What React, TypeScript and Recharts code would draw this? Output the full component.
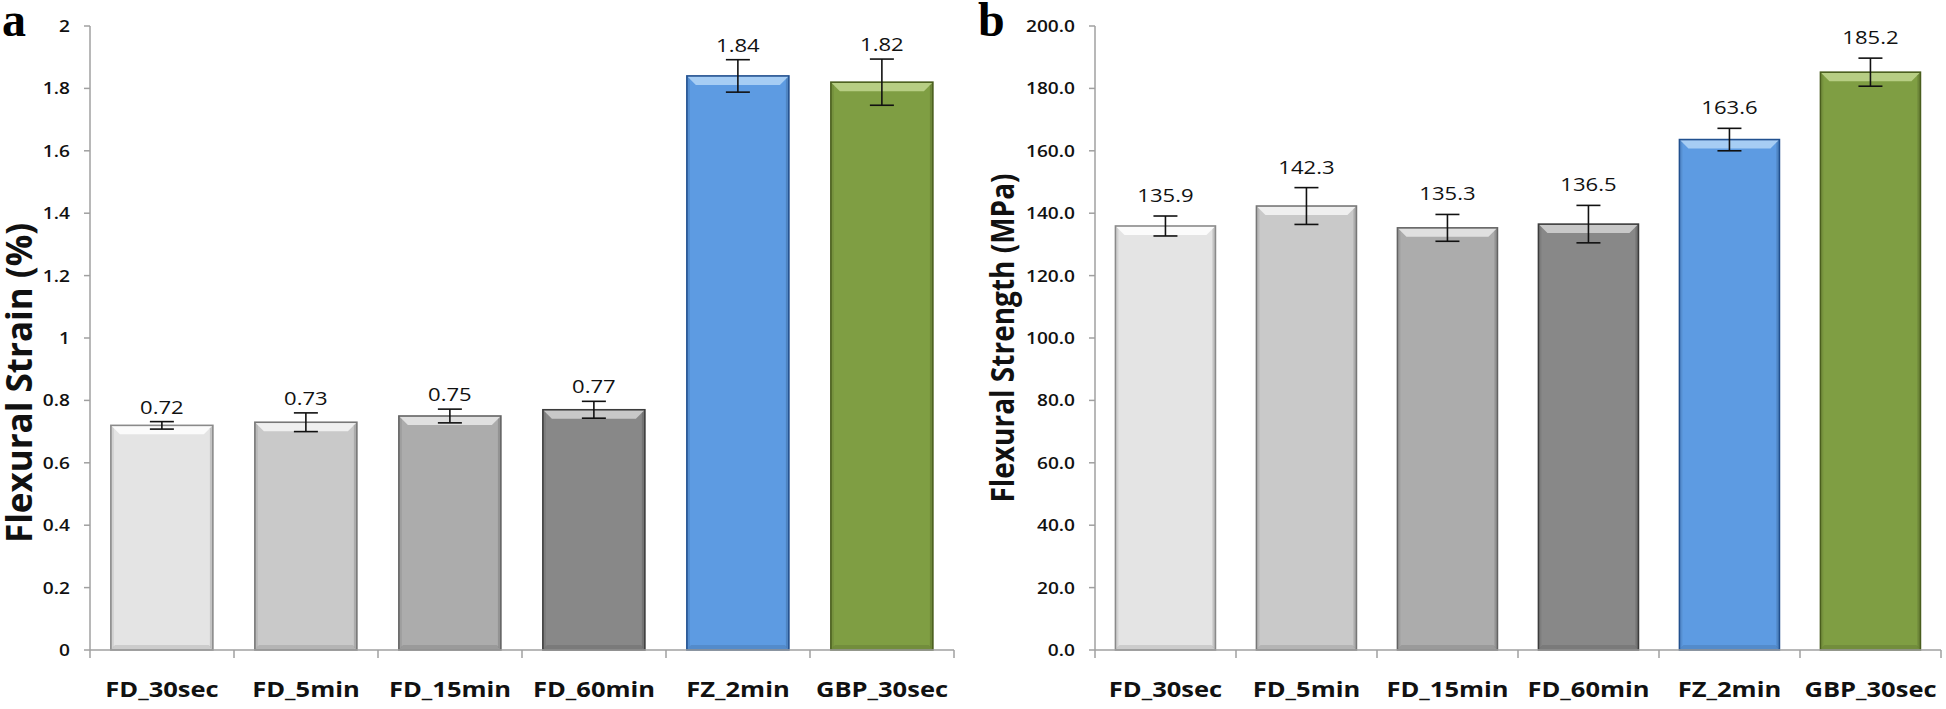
import React from 'react';
import { BarChart, Bar, XAxis, YAxis, ErrorBar, LabelList } from 'recharts';

// ---------- data ----------
const CATEGORIES = ['FD_30sec', 'FD_5min', 'FD_15min', 'FD_60min', 'FZ_2min', 'GBP_30sec'];
const STRAIN = [0.72, 0.73, 0.75, 0.77, 1.84, 1.82];
const STRAIN_ERR = [0.012, 0.03, 0.022, 0.027, 0.052, 0.074];
const STRENGTH = [135.9, 142.3, 135.3, 136.5, 163.6, 185.2];
const STRENGTH_ERR = [3.2, 5.9, 4.3, 6.0, 3.6, 4.5];
const STRAIN_TICKS = [0, 0.2, 0.4, 0.6, 0.8, 1, 1.2, 1.4, 1.6, 1.8, 2];
const STRENGTH_TICKS = [0, 20, 40, 60, 80, 100, 120, 140, 160, 180, 200];

// ---------- styles ----------
const FILLS = ['#e4e4e4', '#c9c9c9', '#acacac', '#888888', '#5d9be2', '#7f9e43'];
const EDGES = ['#8a8a8a', '#777777', '#636363', '#3c3c3c', '#21508f', '#4a5e1e'];
const BEVELS = ['#fbfbfb', '#efefef', '#e0e0e0', '#c8c8c8', '#a6cdf4', '#b7ce84'];
const SX = 1.16;
const FONT = "'Open Sans', sans-serif";
const AXIS_GRAY = '#a0a0a0';

const strainData = CATEGORIES.map((name, i) => ({ name, v: STRAIN[i], err: STRAIN_ERR[i] }));
const strengthData = CATEGORIES.map((name, i) => ({ name, v: STRENGTH[i], err: STRENGTH_ERR[i] }));

const BevelBar = (p: any) => {
  const { x, y, width: w, height: h, index } = p;
  if (!w || !h) return null;
  const i = index ?? 0;
  const b = Math.min(9, h / 2);
  return (
    <g>
      <rect x={x} y={y} width={w} height={h} fill={FILLS[i]} />
      <polygon points={`${x},${y} ${x + w},${y} ${x + w - b},${y + b} ${x + b},${y + b}`} fill={BEVELS[i]} />
      <polygon
        points={`${x},${y + h} ${x + w},${y + h} ${x + w - 4},${y + h - 5} ${x + 4},${y + h - 5}`}
        fill="rgba(0,0,0,0.10)"
      />
      <polygon points={`${x},${y} ${x + 3},${y + 3} ${x + 3},${y + h - 3} ${x},${y + h}`} fill="rgba(0,0,0,0.08)" />
      <polygon
        points={`${x + w},${y} ${x + w - 3},${y + 3} ${x + w - 3},${y + h - 3} ${x + w},${y + h}`}
        fill="rgba(0,0,0,0.14)"
      />
      <rect x={x} y={y} width={w} height={h} fill="none" stroke={EDGES[i]} strokeWidth={1.6} />
    </g>
  );
};

const XTick = (props: any) => {
  const { x, y, payload, index } = props;
  const half = payload && typeof payload.offset === 'number' && payload.offset > 0 ? payload.offset : 72;
  return (
    <g>
      {index === 0 && <line x1={x - half} x2={x - half} y1={y} y2={y + 8} stroke={AXIS_GRAY} strokeWidth={1.5} />}
      <line x1={x + half} x2={x + half} y1={y} y2={y + 8} stroke={AXIS_GRAY} strokeWidth={1.5} />
      <text
        transform={`translate(${x},${y + 47}) scale(${SX},1)`}
        textAnchor="middle"
        fontFamily={FONT}
        fontWeight={700}
        fontSize={22}
        fill="#111"
      >
        {payload.value}
      </text>
    </g>
  );
};

const makeYTick = (fmt: (v: number) => string) => (props: any) => {
  const { x, y, payload } = props;
  return (
    <text
      transform={`translate(${x},${y}) scale(${SX},1)`}
      textAnchor="end"
      dy="0.36em"
      fontFamily={FONT}
      fontWeight={600}
      fontSize={16.5}
      fill="#111"
    >
      {fmt(payload.value)}
    </text>
  );
};

const makeTitle = (text: string, dx: number, dy: number, size: number, sx: number) => (p: any) => {
  const vb = p.viewBox || {};
  const cx = (vb.x ?? 0) + dx;
  const cy = (vb.y ?? 0) + (vb.height ?? 0) / 2 + dy;
  return (
    <text
      transform={`translate(${cx},${cy}) scale(${sx},1) rotate(-90)`}
      textAnchor="middle"
      dy="0.36em"
      fontFamily={FONT}
      fontWeight={700}
      fontSize={size}
      fill="#111"
    >
      {text}
    </text>
  );
};

const makeValueLabel = (values: number[], errs: number[], gap: number, digits: number) => (p: any) => {
  const vb = p.viewBox || {};
  const x = Number(p.x ?? vb.x);
  const y = Number(p.y ?? vb.y);
  const w = Number(p.width ?? vb.width);
  const h = Number(p.height ?? vb.height);
  let i = typeof p.index === 'number' ? p.index : values.indexOf(Number(p.value));
  if (i < 0) i = 0;
  const errPx = values[i] ? (errs[i] * h) / values[i] : 0;
  return (
    <text
      transform={`translate(${x + w / 2},${y - errPx - gap}) scale(${SX},1)`}
      textAnchor="middle"
      fontFamily={FONT}
      fontWeight={400}
      fontSize={19}
      fill="#111"
    >
      {values[i].toFixed(digits)}
    </text>
  );
};

export default function App() {
  return (
    <div style={{ position: 'absolute', left: 0, top: 0, width: 1946, height: 709, background: '#fff' }}>
      <div style={{ position: 'absolute', left: 0, top: 0 }}>
        <BarChart
          width={980}
          height={709}
          data={strainData}
          margin={{ top: 26, right: 26, left: 0, bottom: 0 }}
          barCategoryGap="14.5%"
        >
          <XAxis
            dataKey="name"
            height={59}
            axisLine={{ stroke: AXIS_GRAY, strokeWidth: 1.5 }}
            tickLine={false}
            tickSize={0}
            tickMargin={0}
            interval={0}
            tick={<XTick />}
          />
          <YAxis
            width={90}
            domain={[0, 2]}
            ticks={STRAIN_TICKS}
            interval={0}
            axisLine={{ stroke: AXIS_GRAY, strokeWidth: 1.5 }}
            tickLine={{ stroke: AXIS_GRAY, strokeWidth: 1.5 }}
            tickSize={6}
            tickMargin={14}
            tick={makeYTick((v) => String(v))}
            label={makeTitle('Flexural Strain (%)', 19, 45, 35, 1.0)}
          />
          <Bar dataKey="v" isAnimationActive={false} shape={<BevelBar />}>
            <ErrorBar dataKey="err" width={12} stroke="#111" strokeWidth={1.6} isAnimationActive={false} />
            <LabelList dataKey="v" content={makeValueLabel(STRAIN, STRAIN_ERR, 8, 2)} />
          </Bar>
        </BarChart>
      </div>
      <div style={{ position: 'absolute', left: 960, top: 0 }}>
        <BarChart
          width={986}
          height={709}
          data={strengthData}
          margin={{ top: 26, right: 5, left: 0, bottom: 0 }}
          barCategoryGap="14.5%"
        >
          <XAxis
            dataKey="name"
            height={59}
            axisLine={{ stroke: AXIS_GRAY, strokeWidth: 1.5 }}
            tickLine={false}
            tickSize={0}
            tickMargin={0}
            interval={0}
            tick={<XTick />}
          />
          <YAxis
            width={135}
            domain={[0, 200]}
            ticks={STRENGTH_TICKS}
            interval={0}
            axisLine={{ stroke: AXIS_GRAY, strokeWidth: 1.5 }}
            tickLine={{ stroke: AXIS_GRAY, strokeWidth: 1.5 }}
            tickSize={6}
            tickMargin={14}
            tick={makeYTick((v) => v.toFixed(1))}
            label={makeTitle('Flexural Strength (MPa)', 43, 0, 28, 1.12)}
          />
          <Bar dataKey="v" isAnimationActive={false} shape={<BevelBar />}>
            <ErrorBar dataKey="err" width={12} stroke="#111" strokeWidth={1.6} isAnimationActive={false} />
            <LabelList dataKey="v" content={makeValueLabel(STRENGTH, STRENGTH_ERR, 14, 1)} />
          </Bar>
        </BarChart>
      </div>
      <svg
        width={1946}
        height={709}
        style={{ position: 'absolute', left: 0, top: 0, pointerEvents: 'none' }}
      >
        <text x={2} y={36} fontFamily="'Liberation Serif', serif" fontWeight={700} fontSize={48} fill="#000">
          a
        </text>
        <text x={978} y={36} fontFamily="'Liberation Serif', serif" fontWeight={700} fontSize={48} fill="#000">
          b
        </text>
      </svg>
    </div>
  );
}
